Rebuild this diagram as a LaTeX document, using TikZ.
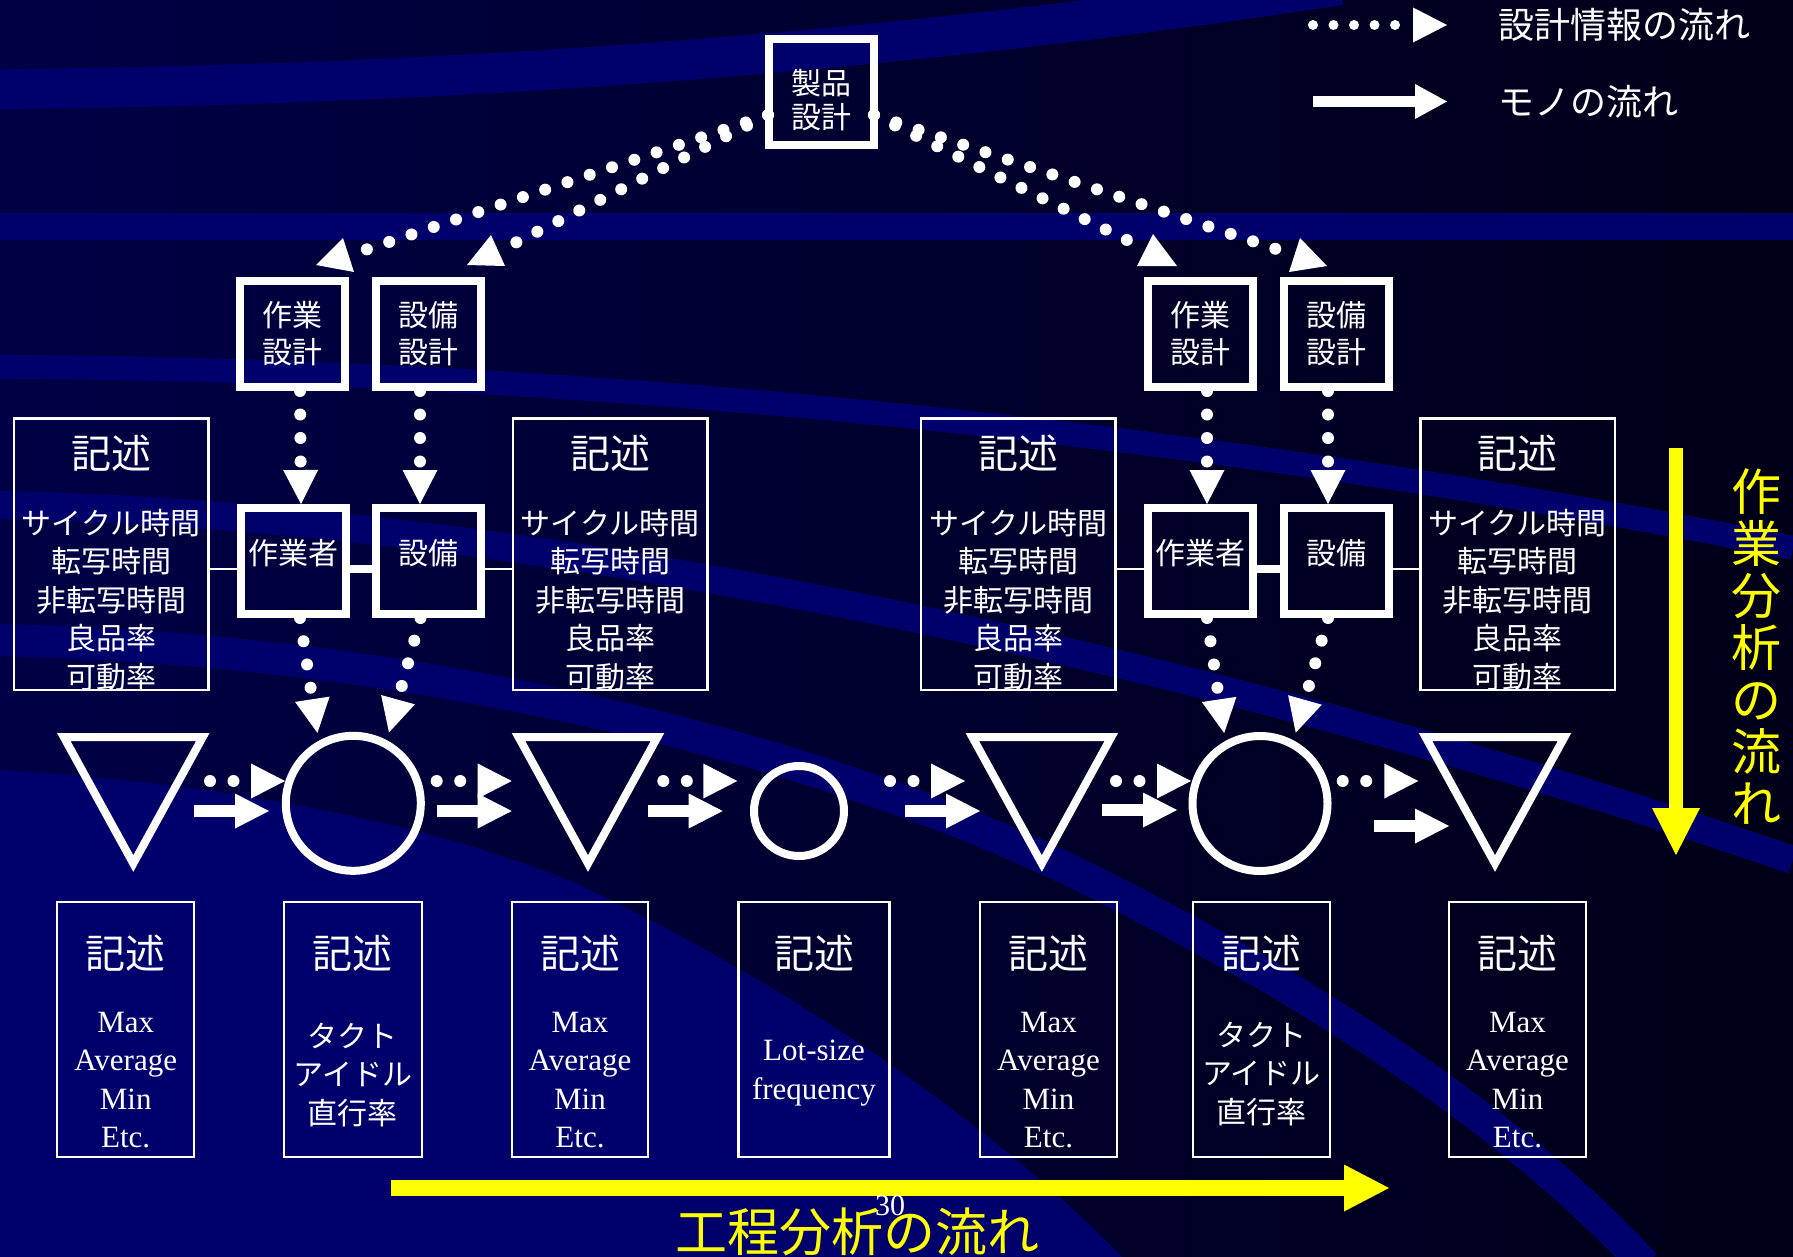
\documentclass[tikz,border=0pt]{standalone}
\usepackage{fontspec}
\setmainfont{Noto Sans CJK JP}
\newfontfamily\latinserif{Liberation Serif}
\usetikzlibrary{positioning,arrows.meta,calc}

\definecolor{bgleft}{RGB}{0,0,70}
\definecolor{bgright}{RGB}{0,0,24}
\definecolor{bandblue}{RGB}{0,0,108}
\definecolor{flowyellow}{RGB}{255,255,0}

\tikzset{
  boxtext/.style={text=white, align=center, inner sep=0pt, font=\fontsize{30}{37}\selectfont},
  designbox/.style={draw=white, line width=8pt, minimum width=105pt, minimum height=106pt, boxtext},
  descbox/.style={draw=white, line width=2.5pt, inner sep=0pt},
  deschead/.style={text=white, inner sep=0pt, font=\fontsize{40}{40}\selectfont},
  descbody/.style={text=white, align=center, inner sep=0pt, font=\fontsize{30}{38.6}\selectfont},
  latinbody/.style={descbody, font=\latinserif\fontsize{31}{38.4}\selectfont},
  symbol/.style={circle, draw=white, line width=8pt, inner sep=0pt},
  symline/.style={draw=white, line width=8pt},
  dotline/.style={draw=white, line width=12pt, line cap=round, dash pattern=on 0pt off 23.5pt},
  dotarrow/.style={dotline, -{Triangle[length=34pt, width=35pt, line width=0pt]}},
  goodsarrow/.style={draw=white, line width=12pt, -{Triangle[length=34pt, width=35pt, line width=0pt]}},
  linkline/.style={draw=white, line width=2.5pt},
  flowarrow/.style={draw=flowyellow, line width=16.5pt, -{Triangle[length=45pt, width=47pt, line width=0pt]}},
  flowlabel/.style={text=flowyellow, align=center, inner sep=0pt, font=\fontsize{52}{52}\selectfont},
  legendtext/.style={text=white, inner sep=0pt, anchor=west, font=\fontsize{36}{36}\selectfont},
  bgband/.style={draw=bandblue, line width=30pt},
}

\begin{document}
\begin{tikzpicture}[x=1pt, y=-1pt]
  \useasboundingbox (0,0) rectangle (1793,1256);

  % background
  \begin{scope}
    \clip (0,0) rectangle (1793,1256);
    \shade[left color=bgleft, right color=bgright] (0,0) rectangle (1793,1256);
    \fill[bandblue] (0,770) .. controls (250,785) and (450,830) .. (580,885)
      .. controls (800,990) and (1000,1130) .. (1125,1260) -- (0,1260) -- cycle;
    \draw[bgband, line width=40pt] (0,89) .. controls (500,85) and (950,45) .. (1340,-15);
    \draw[bgband, line width=27pt] (0,226) -- (1793,226);
    \draw[bgband, line width=24pt] (0,367) .. controls (500,368) and (1150,420) .. (1793,548);
    \draw[bgband, line width=28pt] (0,505) .. controls (500,515) and (1150,640) .. (1793,860);
    \draw[bgband, line width=32pt] (0,640) .. controls (450,650) and (850,760) .. (1090,880)
      .. controls (1330,1000) and (1520,1130) .. (1645,1265);
  \end{scope}

  % legend
  \coordinate (lga) at (1313,25);
  \coordinate (lgb) at (1447,25);
  \coordinate (lgc) at (1313,101.5);
  \coordinate (lgd) at (1447,101.5);
  \draw[dotarrow, line width=10pt, dash pattern=on 0pt off 20.5pt] (lga) -- (lgb);
  \draw[goodsarrow, line width=11pt, -{Triangle[length=32pt, width=35pt, line width=0pt]}] (lgc) -- (lgd);
  \node[legendtext] (lgt1) at (1498,25) {設計情報の流れ};
  \node[legendtext] (lgt2) at (1498,101.5) {モノの流れ};

  % design boxes
  \node[designbox, label={[boxtext, font=\fontsize{30}{34}\selectfont, yshift=-8pt]center:製品\\設計}] (prod) at (821.5,92) {};
  \node[designbox] (wd1) at (292,334) {作業\\設計};
  \node[designbox] (ed1) at (428.5,334) {設備\\設計};
  \node[designbox] (wd2) at (1200,334) {作業\\設計};
  \node[designbox] (ed2) at (1336,334) {設備\\設計};

  % worker and equipment
  \node[designbox, label={[boxtext, yshift=8pt]center:作業者}] (w1) at (293,561) {};
  \node[designbox, label={[boxtext, yshift=8pt]center:設備}] (e1) at (428.5,561) {};
  \node[designbox, label={[boxtext, yshift=8pt]center:作業者}] (w2) at (1200,561) {};
  \node[designbox, label={[boxtext, yshift=8pt]center:設備}] (e2) at (1336,561) {};

  % upper description boxes
  \foreach \x [count=\i] in {111,610,1018.3,1517.7} {
    \node[descbox, minimum width=194.5pt, minimum height=271.5pt] (d\i) at (\x,554) {};
    \node[deschead] (dh\i) at (\x,453) {記述};
    \node[descbody] (dt\i) at (\x,600) {サイクル時間\\転写時間\\非転写時間\\良品率\\可動率};
  }

  % links
  \coordinate (lk) at (0,569);
  \draw[linkline] (d1.east |- lk) -- (w1.west |- lk);
  \draw[white, line width=8pt] (w1.east |- lk) -- (e1.west |- lk);
  \draw[linkline] (e1.east |- lk) -- (d2.west |- lk);
  \draw[linkline] (d3.east |- lk) -- (w2.west |- lk);
  \draw[white, line width=8pt] (w2.east |- lk) -- (e2.west |- lk);
  \draw[linkline] (e2.east |- lk) -- (d4.west |- lk);

  % design information from product design
  \coordinate (tl1) at (359,252);
  \coordinate (tl2) at (515,243);
  \coordinate (tr1) at (1133,243);
  \coordinate (tr2) at (1285,252);
  \draw[dotline] ([shift={(3,23)}]prod.west) -- (tl1);
  \draw[dotline] ([shift={(3,23)}]prod.west) -- (tl2);
  \draw[dotline] ([shift={(-4,23)}]prod.east) -- (tr1);
  \draw[dotline] ([shift={(-4,23)}]prod.east) -- (tr2);
  \fill[white] (316,265) -- (354,272) -- (343,238) -- cycle;
  \fill[white] (467,265) -- (505,266) -- (491,235) -- cycle;
  \fill[white] (1137,266) -- (1177,266) -- (1153,234) -- cycle;
  \fill[white] (1289,272) -- (1327,266) -- (1300,238) -- cycle;

  \draw[dotarrow] ([xshift=8pt]wd1.south) -- ([xshift=8pt]w1.north);
  \draw[dotarrow] ([xshift=-8.5pt]ed1.south) -- ([xshift=-8.5pt]e1.north);
  \draw[dotarrow] ([xshift=7pt]wd2.south) -- ([xshift=7pt]w2.north);
  \draw[dotarrow] ([xshift=-8pt]ed2.south) -- ([xshift=-8pt]e2.north);

  % process symbols
  \foreach \x in {133.3,588,1041.8,1495}
    \draw[symline] (\x-69.5,737) -- (\x+69.5,737) -- (\x,863.5) -- cycle;
  \node[symbol, minimum size=135pt] (c1) at (353.3,803.3) {};
  \node[symbol, minimum size=90pt] (s1) at (799,811) {};
  \node[symbol, minimum size=135pt] (c2) at (1260,803.5) {};

  \draw[dotarrow, shorten >=8pt] ([xshift=7pt]w1.south) -- (c1.119);
  \draw[dotarrow, shorten >=8pt] ([xshift=-8pt]e1.south) -- (c1.62);
  \draw[dotarrow, shorten >=8pt] ([xshift=7pt]w2.south) -- (c2.119);
  \draw[dotarrow, shorten >=8pt] ([xshift=-8pt]e2.south) -- (c2.62);

  % flow between symbols
  \foreach \a/\b/\c/\d/\y [count=\i] in {210/285/194/269/811, 436.7/511.7/436.7/511.7/811,
      663.3/737.3/648.3/722.7/811, 890/965/905/980/811, 1116/1191/1102/1177/810,
      1342.7/1418.3/1374/1449/826} {
    \coordinate (ia\i) at (\a,781);
    \coordinate (ib\i) at (\b,781);
    \coordinate (ga\i) at (\c,\y);
    \coordinate (gb\i) at (\d,\y);
    \draw[dotarrow] (ia\i) -- (ib\i);
    \draw[goodsarrow] (ga\i) -- (gb\i);
  }

  % lower description boxes
  \foreach \x/\w/\by/\st/\body [count=\i] in {
      125.7/137/1080/latinbody/{Max\\Average\\Min\\Etc.},
      352.8/138/1075/descbody/{タクト\\アイドル\\直行率},
      580/136/1080/latinbody/{Max\\Average\\Min\\Etc.},
      814/151/1073/latinbody/{Lot-size\\frequency},
      1048.5/137/1080/latinbody/{Max\\Average\\Min\\Etc.},
      1261.3/137/1074/descbody/{タクト\\アイドル\\直行率},
      1517.5/137/1080/latinbody/{Max\\Average\\Min\\Etc.}} {
    \node[descbox, minimum width=\w*1pt, minimum height=255pt] (b\i) at (\x,1029.5) {};
    \node[deschead] (bh\i) at (\x,953) {記述};
    \node[\st] (bt\i) at (\x,\by) {\body};
  }

  % analysis flows
  \coordinate (pa) at (391,1188);
  \coordinate (pb) at (1389,1188);
  \draw[flowarrow] (pa) -- (pb);
  \node[flowlabel] (plab) at (857,1232) {工程分析の流れ};
  \coordinate (va) at (1676,448);
  \coordinate (vb) at (1676,855);
  \draw[flowarrow, line width=14.5pt, -{Triangle[length=47pt, width=48pt, line width=0pt]}] (va) -- (vb);
  \node[flowlabel, font=\fontsize{50}{52}\selectfont] (vlab) at (1756.5,647) {作\\業\\分\\析\\の\\流\\れ};

  \node[text=white, inner sep=0pt, font=\latinserif\fontsize{30}{30}\selectfont] (pg) at (890,1206) {30};
\end{tikzpicture}
\end{document}
